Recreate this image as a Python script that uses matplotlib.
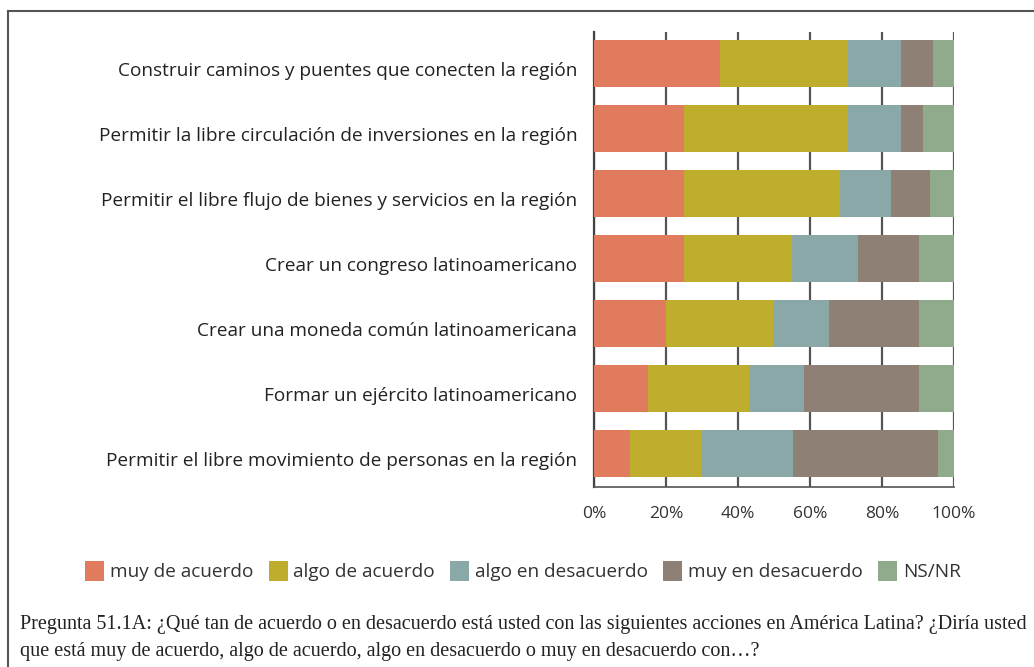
import matplotlib
matplotlib.use('Agg')
import matplotlib.pyplot as plt
import matplotlib.transforms as mtransforms
import numpy as np
from matplotlib.lines import Line2D

categories = [
    'Construir caminos y puentes que conecten la región',
    'Permitir la libre circulación de inversiones en la región',
    'Permitir el libre flujo de bienes y servicios en la región',
    'Crear un congreso latinoamericano',
    'Crear una moneda común latinoamericana',
    'Formar un ejército latinoamericano',
    'Permitir el libre movimiento de personas en la región',
]
series_names = ['muy de acuerdo', 'algo de acuerdo', 'algo en desacuerdo',
                'muy en desacuerdo', 'NS/NR']
muy_de_acuerdo = [35.1, 25.0, 25.0, 25.0, 20.0, 15.0, 10.0]
algo_de_acuerdo = [35.4, 45.5, 43.2, 30.0, 30.0, 28.1, 20.0]
algo_en_desacuerdo = [14.9, 14.9, 14.2, 18.2, 15.4, 15.1, 25.4]
muy_en_desacuerdo = [8.9, 5.9, 10.8, 17.2, 25.0, 32.0, 40.1]
ns_nr = [5.7, 8.7, 6.8, 9.6, 9.6, 9.8, 4.5]
xticks = [0, 20, 40, 60, 80, 100]

colors = ['#E07B5E', '#BFAE2D', '#8BA8A8', '#8E8075', '#90AA8C']
caption = ('Pregunta 51.1A: ¿Qué tan de acuerdo o en desacuerdo está usted con las siguientes acciones en América Latina? ¿Diría usted\n'
           'que está muy de acuerdo, algo de acuerdo, algo en desacuerdo o muy en desacuerdo con…?')

plt.rcParams['font.family'] = ['Open Sans', 'DejaVu Sans']

fig = plt.figure(figsize=(10.34, 6.67), dpi=100)
ax = fig.add_axes([594 / 1034, 1 - 487 / 667, 360 / 1034, (487 - 32) / 667])

data = [muy_de_acuerdo, algo_de_acuerdo, algo_en_desacuerdo, muy_en_desacuerdo, ns_nr]
y = np.arange(len(categories))[::-1]
left = np.zeros(len(categories))
for name, vals, c in zip(series_names, data, colors):
    vals = np.array(vals)
    ax.barh(y, vals, left=left, height=0.72, color=c, label=name, zorder=3)
    left += vals

ax.set_xlim(0, 100)
ax.set_ylim(-0.515, len(categories) - 1 + 0.485)
ax.set_xticks(xticks)
ax.set_xticklabels([f'{t}%' for t in xticks], fontsize=12.5, color='#333333')
ax.set_yticks(y)
ax.set_yticklabels(categories, fontsize=13.7, color='#222222')
ax.tick_params(axis='y', length=0, pad=12)
ax.tick_params(axis='x', length=0, pad=14)
# labels sit a little below the bar centres in the original
shift = mtransforms.ScaledTranslation(0, -4 / 72, fig.dpi_scale_trans)
for lab in ax.get_yticklabels():
    lab.set_transform(lab.get_transform() + shift)
ax.grid(axis='x', color='#555555', linewidth=1.6, zorder=1)
for s in ['top', 'right']:
    ax.spines[s].set_visible(False)
ax.spines['left'].set_color('#444444')
ax.spines['left'].set_linewidth(1.6)
ax.spines['bottom'].set_color('#555555')
ax.spines['bottom'].set_linewidth(1.2)

handles, labels = ax.get_legend_handles_labels()
fig.legend(handles, labels, loc='center', bbox_to_anchor=(523 / 1034, 1 - 571 / 667),
           ncol=5, frameon=False, fontsize=13.7, handlelength=1.0, handleheight=1.25,
           handletextpad=0.3, columnspacing=0.8, labelcolor='#333333')

fig.text(20 / 1034, 1 - 638 / 667, caption, fontsize=14.5, family='Liberation Serif',
         color='#222222', va='center', ha='left', linespacing=1.6)

# frame lines
fig.add_artist(Line2D([8 / 1034, 1.0], [1 - 11 / 667] * 2, color='#555555', linewidth=1.5,
                      transform=fig.transFigure))
fig.add_artist(Line2D([8 / 1034] * 2, [0, 1 - 11 / 667], color='#555555', linewidth=1.5,
                      transform=fig.transFigure))

fig.savefig('out.png', dpi=100)
